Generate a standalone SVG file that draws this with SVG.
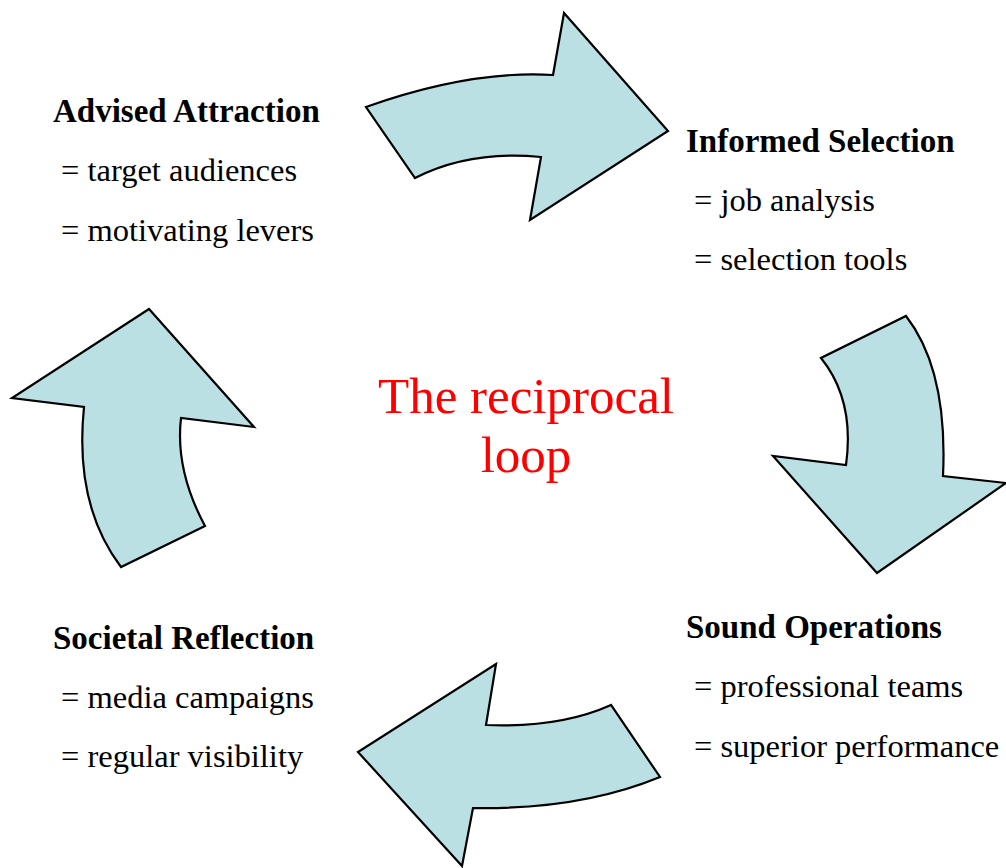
<svg xmlns="http://www.w3.org/2000/svg" width="1006" height="868" viewBox="0 0 1006 868">
<style>
.arrow{fill:#BBE0E3;stroke:#000;stroke-width:2.2;stroke-linejoin:miter}
.h{font-family:"Liberation Serif","Times New Roman",serif;font-weight:bold;font-size:33px;fill:#000}
.t{font-family:"Liberation Serif","Times New Roman",serif;font-size:32.5px;fill:#000}
.c{font-family:"Liberation Serif","Times New Roman",serif;font-size:51px;fill:#FF0000;text-anchor:middle}
</style>
<rect width="1006" height="868" fill="#fff"/>
<g id="connectors">
<path class="arrow" d="M366,107 Q470,70 553,75 L564,13 L668,131 L530,220 L541,157 Q470,150 415,178 Z"/>
<path class="arrow" d="M906,316 Q948,370 943,476 L1006,483 L877,573 L773,456 L846,465 Q855,400 821,358 Z"/>
<path class="arrow" d="M660,777 Q580,810 473,808 L462,866 L358,752 L496,664 L486,725 Q560,728 611,705 Z"/>
<path class="arrow" d="M121,567 Q74,505 84,407 L12,398 L149,309 L254,427 L181,418 Q175,470 205,526 Z"/>
</g>
<g id="advised-attraction">
<text class="h" x="53" y="122">Advised Attraction</text>
<text class="t" x="61" y="181">= target audiences</text>
<text class="t" x="61" y="241">= motivating levers</text>
</g>
<g id="informed-selection">
<text class="h" x="686" y="152">Informed Selection</text>
<text class="t" x="694" y="211">= job analysis</text>
<text class="t" x="694" y="270">= selection tools</text>
</g>
<g id="sound-operations">
<text class="h" x="686" y="638">Sound Operations</text>
<text class="t" x="694" y="697">= professional teams</text>
<text class="t" x="694" y="757">= superior performance</text>
</g>
<g id="societal-reflection">
<text class="h" x="53" y="649">Societal Reflection</text>
<text class="t" x="61" y="708">= media campaigns</text>
<text class="t" x="61" y="767">= regular visibility</text>
</g>
<g id="center">
<text class="c" x="526" y="413">The reciprocal</text>
<text class="c" x="526" y="472">loop</text>
</g>
</svg>
